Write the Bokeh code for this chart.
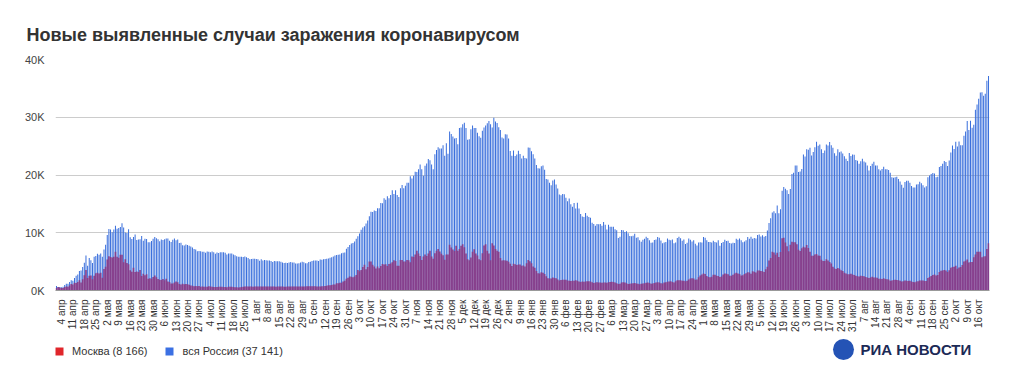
import math
from bokeh.plotting import figure
from bokeh.layouts import column
from bokeh.models import Range1d, FixedTicker, Legend, LegendItem, Label
from bokeh.embed import file_html
from bokeh.resources import INLINE

title = "Новые выявленные случаи заражения коронавирусом"
# daily values starting 1 Apr 2020, ending 22 Oct 2021
russia = [
    # 2020 Apr
    771, 601, 601, 582, 658, 954, 1154, 1175, 1459, 1786, 1667, 2186, 2558, 2774, 3388, 3448, 4070, 4785, 6060, 4268,
    5642, 5236, 4774, 5849, 5966, 6361, 6198, 6411, 5841, 7099,
    # May
    7933, 9623, 10633, 10581, 10102, 10559, 11231, 10699, 10817, 11012, 11656, 10899, 10028, 9974, 10598, 9200,
    8926, 9263, 9709, 8764, 8849, 8894, 9434, 8599, 8946, 8915, 8338, 8371, 8572, 8952, 9268,
    # Jun
    9035, 8863, 8536, 8831, 8726, 8855, 8984, 8985, 8595, 8404, 8779, 8987, 8706, 8835, 8246, 8248, 7843, 7790,
    7972, 7889, 7728, 7600, 7425, 7176, 7113, 6800, 6852, 6791, 6719, 6693,
    # Jul
    6556, 6760, 6718, 6632, 6736, 6611, 6368, 6562, 6509, 6635, 6611, 6615, 6537, 6248, 6422, 6428, 6406, 6234,
    6109, 5940, 5842, 5862, 5848, 5811, 5871, 5765, 5635, 5395, 5475, 5509, 5482,
    # Aug
    5462, 5427, 5159, 5394, 5204, 5267, 5241, 5212, 5189, 5118, 4945, 5102, 5057, 5065, 5061, 4969, 4839, 4748,
    4790, 4767, 4838, 4921, 4852, 4852, 4676, 4696, 4711, 4829, 4980, 4897, 4729,
    # Sep
    4729, 4952, 4995, 5110, 5205, 5195, 5185, 5099, 5363, 5310, 5406, 5449, 5509, 5529, 5670, 5762, 5905, 6065,
    6148, 6196, 6215, 6431, 6529, 6595, 7212, 7523, 7867, 8135, 8232, 8481,
    # Oct
    8945, 9412, 9859, 10499, 10888, 11115, 11615, 12126, 12846, 13634, 13592, 13868, 13754, 14231, 14231, 15150,
    15099, 15982, 15700, 16319, 15971, 16521, 17340, 16710, 17347, 16550, 16202, 17717, 18283, 17717, 18140,
    # Nov
    18665, 18648, 19768, 19404, 19851, 20582, 20498, 20977, 21798, 20977, 19851, 21608, 21983, 22778, 22572,
    21798, 20977, 23610, 24318, 24822, 24581, 24581, 25173, 23351, 25487, 23675, 27543, 27100, 26683, 26338,
    # Dec
    26402, 25345, 28145, 28209, 28782, 29039, 28137, 26097, 26190, 27927, 28585, 28137, 28134, 27328, 26689,
    26431, 27656, 28214, 28552, 28948, 29350, 28776, 28214, 29935, 29258, 29018, 28284, 27787, 26513, 26301, 27039,
    # 2021 Jan
    27029, 26301, 24150, 23351, 24246, 23309, 23541, 24217, 23652, 22851, 23315, 22934, 22850, 24763, 24715,
    24092, 23586, 22857, 21734, 21152, 21127, 21513, 21666, 20921, 19290, 19241, 18648, 18241, 19032, 19238, 18359,
    # Feb
    17648, 16643, 16474, 16714, 16688, 16048, 15445, 15916, 14928, 14494, 15168, 14207, 15188, 14185, 13233,
    12828, 12742, 13433, 12953, 12742, 12604, 11749, 11534, 11198, 11534, 11484, 11534, 11198,
    # Mar
    11869, 11370, 10565, 11385, 11022, 11024, 11022, 10595, 10431, 9079, 9303, 10461, 10446, 10138, 10253, 9921,
    9445, 9400, 9474, 9820, 9149, 9208, 8683, 8457, 8792, 8970, 9288, 9073, 8711, 8277, 8328,
    # Apr
    8730, 8817, 9255, 9148, 8646, 8195, 8294, 8405, 8986, 8804, 8702, 8810, 8173, 8328, 9084, 9321, 9065, 8632,
    8835, 8053, 8271, 8996, 8780, 8465, 8711, 8114, 7771, 8327, 8336, 8319,
    # May
    9270, 9137, 8697, 8407, 8419, 8312, 8633, 8419, 8329, 8702, 7770, 8217, 8380, 8790, 8554, 8618, 8232, 8145,
    8261, 8217, 8947, 8790, 9023, 8699, 8371, 8489, 8706, 9252, 8945, 9289, 8951,
    # Jun
    9083, 9022, 9614, 9704, 9364, 9580, 9328, 9434, 10407, 11699, 12505, 13510, 13721, 13397, 14723, 13397,
    14057, 17262, 17906, 17611, 17378, 16715, 17594, 20182, 20393, 21665, 21650, 20538, 20616, 21042,
    # Jul
    23543, 23218, 24439, 24353, 24702, 23378, 23962, 24818, 25766, 25082, 25292, 24456, 23807, 24224, 25293,
    25116, 25704, 25142, 24702, 23770, 23321, 24471, 23947, 24072, 23703, 23239, 22804, 22420, 23811, 23270, 23564,
    # Aug
    23508, 22589, 22470, 21932, 22381, 22804, 22320, 22160, 21624, 20765, 21571, 21932, 22277, 21624, 21624,
    20992, 20765, 21058, 21407, 21000, 20992, 20867, 20402, 19630, 19509, 19630, 19706, 19316, 18856, 18325, 17813,
    # Sep
    18780, 18985, 18984, 18645, 18075, 17856, 17822, 18368, 18380, 18841, 18554, 18241, 17837, 18065, 19594,
    19905, 20174, 20329, 20256, 19594, 19706, 21379, 21559, 21931, 22430, 22236, 21559, 22498, 23888, 25110,
    # Oct
    24522, 25769, 24932, 25781, 25133, 25133, 26814, 27550, 29362, 27809, 29409, 28190, 28717, 31299, 32196,
    33208, 34303, 34325, 33740, 34073, 36339, 37141,
]
moscow = [
    # 2020 Apr
    434, 595, 536, 434, 444, 591, 697, 660, 857, 1124, 1030, 1355, 1306, 1489, 1774, 1370, 1959, 2649, 3570, 2151,
    2548, 2612, 1958, 2559, 2971, 3083, 2957, 3095, 2220, 3712,
    # May
    4100, 5358, 5948, 5795, 5714, 5858, 6703, 5846, 5667, 6169, 6185, 4894, 5392, 4748, 4555, 3505, 3238, 3924,
    3187, 3293, 3190, 3541, 2516, 2913, 2623, 2830, 2054, 2140, 2054, 2332, 2595,
    # Jun
    2286, 2001, 1842, 1823, 1998, 1794, 2045, 1572, 1486, 1195, 1227, 1393, 1547, 1435, 1145, 1040, 1154, 1070,
    1136, 1081, 1000, 848, 829, 757, 790, 735, 798, 667, 690, 654,
    # Jul
    651, 659, 744, 684, 641, 608, 618, 588, 634, 668, 658, 617, 614, 577, 630, 663, 637, 607, 580, 555, 538, 562,
    614, 633, 687, 699, 687, 691, 687, 658, 672,
    # Aug
    694, 685, 695, 689, 689, 695, 696, 688, 683, 688, 681, 688, 665, 682, 680, 679, 673, 664, 669, 671, 672, 674,
    676, 678, 672, 681, 686, 694, 698, 712, 705,
    # Sep
    718, 721, 731, 719, 715, 725, 714, 701, 707, 720, 748, 786, 820, 898, 927, 962, 1050, 1056, 1247, 1259, 1358,
    1348, 1560, 1670, 2014, 2217, 2424, 2390, 2300, 2424,
    # Oct
    2677, 3537, 3327, 3537, 4082, 4475, 3701, 4082, 5016, 5016, 4444, 4174, 3802, 4145, 3839, 4221, 4610, 4501,
    4524, 4264, 4610, 4694, 4909, 5224, 5114, 4285, 4283, 5260, 5268, 5012, 5010,
    # Nov
    5262, 5255, 4906, 5902, 5798, 6253, 6897, 6427, 5962, 5268, 5880, 6253, 5962, 6427, 6897, 5882, 5478, 6438,
    6902, 7168, 6744, 6361, 6107, 5321, 6214, 6214, 7918, 7465, 7120, 6825,
    # Dec
    7750, 6882, 7168, 7750, 7993, 7504, 6425, 5418, 5254, 5707, 6703, 7123, 6425, 6058, 5418, 5238, 6438, 7797,
    7993, 6875, 6427, 5255, 8203, 7797, 7167, 6900, 6723, 5631, 5186, 5232, 5203,
    # 2021 Jan
    5130, 4976, 4650, 4227, 4650, 4548, 4429, 4509, 4508, 4297, 4313, 4171, 4721, 5281, 5060, 4707, 4166, 3930,
    3367, 2976, 2962, 3166, 3066, 2848, 2479, 2115, 2085, 2096, 2239, 2143, 2103,
    # Feb
    1895, 1735, 1833, 1881, 1875, 1852, 1718, 1697, 1663, 1694, 1700, 1760, 1689, 1579, 1470, 1542, 1506, 1542,
    1598, 1619, 1538, 1450, 1320, 1375, 1418, 1380, 1405, 1362,
    # Mar
    1394, 1367, 1354, 1450, 1467, 1511, 1475, 1392, 1240, 1136, 1160, 1369, 1444, 1368, 1251, 1127, 1188, 1212,
    1249, 1294, 1208, 1155, 1088, 1190, 1230, 1268, 1339, 1385, 1289, 1185, 1215,
    # Apr
    1315, 1371, 1412, 1393, 1245, 1213, 1380, 1445, 1517, 1563, 1601, 1486, 1400, 1622, 1771, 1780, 1764, 1709,
    1674, 1606, 1695, 1893, 2099, 2101, 2072, 1881, 1895, 2291, 2590, 2759,
    # May
    2936, 2865, 2512, 2320, 2313, 2386, 2719, 2710, 2574, 2521, 2342, 2442, 2760, 2943, 2890, 2818, 2568, 2562,
    2717, 2942, 3064, 2956, 2877, 2612, 2653, 2853, 2982, 3144, 3111, 2909, 3346,
    # Jun
    3243, 3138, 3473, 3458, 3370, 3328, 3210, 3701, 4124, 5195, 5641, 6701, 6590, 6195, 6536, 5782, 6658, 9056,
    9120, 8305, 7651, 6786, 7916, 8448, 8343, 8373, 8005, 7064, 6842, 7305,
    # Jul
    7597, 7446, 7893, 7367, 6720, 6028, 6020, 6222, 6315, 6048, 5999, 5309, 5091, 5108, 5395, 5179, 4941, 4692,
    4120, 3813, 3715, 3900, 3780, 3497, 3365, 3066, 2948, 2799, 2823, 2882, 2783,
    # Aug
    2682, 2563, 2483, 2414, 2542, 2513, 2479, 2337, 2261, 2172, 2262, 2373, 2244, 2270, 2217, 2036, 2028, 2009,
    2131, 2004, 1944, 1902, 1679, 1736, 1839, 1848, 1798, 1773, 1681, 1563, 1599,
    # Sep
    1734, 1667, 1644, 1675, 1578, 1462, 1421, 1547, 1619, 1731, 1749, 1747, 1640, 1664, 2174, 2359, 2523, 2705,
    2779, 2603, 2703, 3200, 3420, 3450, 3564, 3457, 3207, 3485, 3924, 4075,
    # Oct
    4123, 4285, 3767, 3963, 4065, 4395, 5009, 5167, 5364, 4868, 4923, 4916, 5776, 6214, 6713, 6724, 6710, 5751,
    5893, 5930, 7205, 8166,
]
tick_labels = [
    "4 апр", "11 апр", "18 апр", "25 апр", "2 мая", "9 мая", "16 мая", "23 мая", "30 мая", "6 июн", "13 июн",
    "20 июн", "27 июн", "4 июл", "11 июл", "18 июл", "25 июл", "1 авг", "8 авг", "15 авг", "22 авг", "29 авг",
    "5 сен", "12 сен", "19 сен", "26 сен", "3 окт", "10 окт", "17 окт", "24 окт", "31 окт", "7 ноя", "14 ноя",
    "21 ноя", "28 ноя", "5 дек", "12 дек", "19 дек", "26 дек", "2 янв", "9 янв", "16 янв", "23 янв", "30 янв",
    "6 фев", "13 фев", "20 фев", "27 фев", "6 мар", "13 мар", "20 мар", "27 мар", "3 апр", "10 апр", "17 апр",
    "24 апр", "1 мая", "8 мая", "15 мая", "22 мая", "29 мая", "5 июн", "12 июн", "19 июн", "26 июн", "3 июл",
    "10 июл", "17 июл", "24 июл", "31 июл", "7 авг", "14 авг", "21 авг", "28 авг", "4 сен", "11 сен", "18 сен",
    "25 сен", "2 окт", "9 окт", "16 окт",
]
first_tick_day = 3  # 4 Apr 2020 is day 3 of the series
y_ticks = [0, 10000, 20000, 30000, 40000]
y_tick_labels = ["0K", "10K", "20K", "30K", "40K"]
series_names = ["Москва", "вся Россия"]
source_name = "РИА НОВОСТИ"

days = list(range(len(russia)))
tick_days = [first_tick_day + 7 * i for i in range(len(tick_labels))]

FONT = "Liberation Sans"
BLUE = "#3a6fdc"
RED = "#e0262b"

p = figure(width=1024, height=335, output_backend="svg", toolbar_location=None,
           x_range=Range1d(-0.6, len(russia) - 0.4), y_range=Range1d(0, 40000),
           min_border_left=55, min_border_right=35, min_border_top=59, min_border_bottom=45)
p.outline_line_color = None

p.title.text = title
p.title.text_font = FONT
p.title.text_font_size = "18px"
p.title.text_font_style = "bold"
p.title.text_color = "#333333"
p.title.align = "left"
p.title.offset = -29
p.title.standoff = 29

p.xgrid.visible = False
p.ygrid.ticker = FixedTicker(ticks=y_ticks)
p.ygrid.grid_line_color = "#cccccc"

yax = p.yaxis[0]
yax.ticker = FixedTicker(ticks=y_ticks)
yax.major_label_overrides = dict(zip(y_ticks, y_tick_labels))
yax.axis_line_color = None
yax.major_tick_line_color = None
yax.minor_tick_line_color = None
yax.major_label_standoff = 5
yax.major_label_text_font = FONT
yax.major_label_text_font_size = "11px"
yax.major_label_text_color = "#444444"

xax = p.xaxis[0]
xax.ticker = FixedTicker(ticks=tick_days)
xax.major_label_overrides = dict(zip(tick_days, tick_labels))
xax.major_label_orientation = math.pi / 2
xax.axis_line_color = "#999999"
xax.major_tick_line_color = None
xax.minor_tick_line_color = None
xax.major_label_standoff = 3
xax.major_label_text_font = FONT
xax.major_label_text_font_size = "10px"
xax.major_label_text_color = "#333333"

p.vbar(x=days, top=russia, width=0.62, fill_color=BLUE, line_color=None)
p.vbar(x=days, top=moscow, width=1.0, fill_color="#8a3a86", fill_alpha=0.92, line_color=None)

# footer: legend and source logo (its frame is aligned with the chart frame: 55..989 px)
f = figure(width=1024, height=43, output_backend="svg", toolbar_location=None,
           x_range=Range1d(55, 989), y_range=Range1d(0, 43),
           x_axis_location=None, y_axis_location=None,
           min_border_left=55, min_border_right=35, min_border_top=0, min_border_bottom=0)
f.grid.visible = False
f.outline_line_color = None

nan = float("nan")
r_m = f.vbar(x=[nan], top=[nan], width=0.5, fill_color=RED, line_color=None)
r_r = f.vbar(x=[nan], top=[nan], width=0.5, fill_color="#3b70e3", line_color=None)

def fmt(v):
    return f"{v:,}".replace(",", " ")

legend = Legend(items=[
    LegendItem(label=f"{series_names[0]} ({fmt(moscow[-1])})", renderers=[r_m]),
    LegendItem(label=f"{series_names[1]} ({fmt(russia[-1])})", renderers=[r_r]),
], orientation="horizontal", location=(-1, 21), glyph_width=10, glyph_height=10,
    label_text_font=FONT, label_text_font_size="11px", label_text_color="#333333",
    label_standoff=8, spacing=17, padding=0, margin=0, label_height=10,
    border_line_color=None, background_fill_alpha=0)
f.add_layout(legend, "center")

# logo mark
f.scatter(x=[843], y=[29], marker="circle", size=21, fill_color="#2453b5", line_color=None)
f.add_layout(Label(x=860, y=29, text=source_name,
                   text_font=FONT, text_font_size="15px", text_font_style="bold",
                   text_color="#1c2a56", text_baseline="middle", text_align="left"))

open("out.html", "w").write(file_html(column(p, f, spacing=0), INLINE))
